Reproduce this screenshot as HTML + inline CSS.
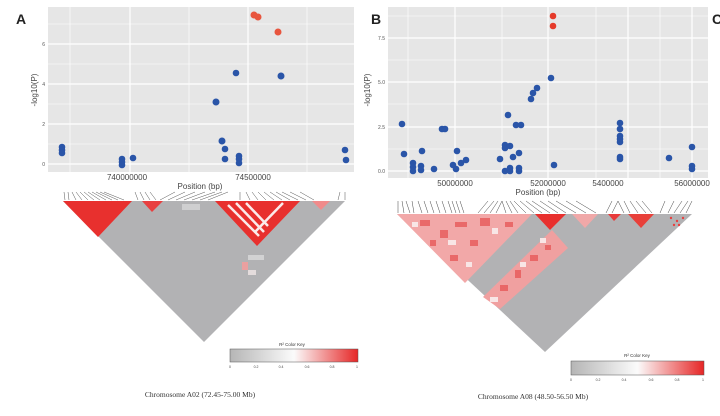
<!DOCTYPE html>
<html><head><meta charset="utf-8"><style>
body{margin:0;background:#fff;}
svg{display:block;font-family:"Liberation Sans",sans-serif;}
</style></head><body>
<svg width="720" height="416" viewBox="0 0 720 416" xmlns="http://www.w3.org/2000/svg">
<!-- Panel A -->
<text x="16" y="24" font-size="14" font-weight="bold" fill="#222">A</text>
<rect x="48" y="7" width="306" height="165" fill="#e6e6e6"/>
<g stroke="#fff" stroke-width="0.6">
<line x1="48" x2="354" y1="144" y2="144"/><line x1="48" x2="354" y1="104" y2="104"/><line x1="48" x2="354" y1="64" y2="64"/><line x1="48" x2="354" y1="24" y2="24"/>
<line x1="70" x2="70" y1="7" y2="172"/><line x1="189" x2="189" y1="7" y2="172"/><line x1="307" x2="307" y1="7" y2="172"/>
</g>
<g stroke="#fff" stroke-width="1.2">
<line x1="48" x2="354" y1="164" y2="164"/><line x1="48" x2="354" y1="124" y2="124"/><line x1="48" x2="354" y1="84" y2="84"/><line x1="48" x2="354" y1="44" y2="44"/>
<line x1="130" x2="130" y1="7" y2="172"/><line x1="248" x2="248" y1="7" y2="172"/>
</g>
<g font-size="5" fill="#555" text-anchor="end">
<text x="45" y="166">0</text><text x="45" y="126">2</text><text x="45" y="86">4</text><text x="45" y="46">6</text>
</g>
<g font-size="8" fill="#444" text-anchor="middle">
<text x="127" y="180">740000000</text><text x="253" y="180">74500000</text>
<text x="200" y="189">Position (bp)</text>
<text transform="translate(37,90) rotate(-90)">-log10(P)</text>
</g>
<g fill="#2a55a8">
<circle cx="281" cy="76" r="3.5"/><circle cx="236" cy="73" r="3.3"/><circle cx="216" cy="102" r="3.5"/>
<circle cx="222" cy="141" r="3.5"/><circle cx="225" cy="149" r="3.3"/><circle cx="225" cy="159" r="3.3"/>
<circle cx="239" cy="156" r="3.3"/><circle cx="239" cy="159" r="3.3"/><circle cx="239" cy="163" r="3.3"/>
<circle cx="62" cy="147" r="3.3"/><circle cx="62" cy="150" r="3.3"/><circle cx="62" cy="153" r="3.3"/>
<circle cx="122" cy="159" r="3.3"/><circle cx="122" cy="162" r="3.3"/><circle cx="122" cy="165" r="3.3"/>
<circle cx="133" cy="158" r="3.3"/><circle cx="345" cy="150" r="3.3"/><circle cx="346" cy="160" r="3.3"/>
</g>
<g fill="#e8553e">
<circle cx="254" cy="15" r="3.5"/><circle cx="258" cy="17" r="3.5"/><circle cx="278" cy="32" r="3.5"/>
</g>
<!-- LD A -->
<g stroke="#555" stroke-width="0.5">
<path d="M64 192 L65 200 M68 192 L69 200 M72 192 L76 200 M76 192 L82 200 M80 192 L88 200 M84 192 L94 200 M88 192 L100 200 M92 192 L106 200 M96 192 L112 200 M100 192 L118 200 M104 192 L124 200 M135 192 L138 200 M140 192 L144 200 M145 192 L150 200 M150 192 L156 200 M160 200 L175 192 M168 200 L185 192 M176 200 L195 192 M184 200 L205 192 M192 200 L215 192 M200 200 L222 192 M208 200 L228 192 M240 192 L240 200 M246 192 L250 200 M252 192 L258 200 M258 192 L266 200 M264 192 L274 200 M270 192 L282 200 M276 192 L290 200 M282 192 L298 200 M290 192 L306 200 M300 192 L314 200 M340 192 L338 200 M345 192 L345 200"/>
</g>
<polygon points="63,201 345,201 204,342" fill="#b2b2b4"/>
<polygon points="63,201 132,201 98,237" fill="#e8302e"/>
<polygon points="142,201 163,201 152,212" fill="#e84040"/>
<polygon points="215,201 300,201 257,246" fill="#e8302e"/>
<g stroke="#fbeaea" stroke-width="2.5">
<line x1="228" y1="205" x2="259" y2="236"/><line x1="236" y1="203" x2="264" y2="232"/><line x1="283" y1="203" x2="255" y2="232"/><line x1="246" y1="203" x2="268" y2="226"/>
</g>
<polygon points="312,201 330,201 321,210" fill="#f08b8b"/>
<rect x="182" y="204" width="18" height="6" fill="#cfcfd0"/>
<rect x="242" y="262" width="6" height="8" fill="#eaa0a0"/><rect x="248" y="255" width="16" height="5" fill="#d2d2d3"/><rect x="248" y="270" width="8" height="5" fill="#e4dcdc"/>
<defs>
<linearGradient id="ck" x1="0" x2="1"><stop offset="0" stop-color="#b5b5b5"/><stop offset="0.5" stop-color="#fbfbfb"/><stop offset="1" stop-color="#e62626"/></linearGradient>
</defs>
<text x="292" y="346" font-size="4.5" text-anchor="middle" fill="#333">R² Color Key</text>
<rect x="230" y="349" width="128" height="13" fill="url(#ck)" stroke="#555" stroke-width="0.5"/>
<g font-size="3.5" fill="#444" text-anchor="middle"><text x="230" y="368">0</text><text x="256" y="368">0.2</text><text x="281" y="368">0.4</text><text x="307" y="368">0.6</text><text x="332" y="368">0.8</text><text x="357" y="368">1</text></g>
<text x="200" y="397" font-size="7.5" text-anchor="middle" font-family="Liberation Serif,serif" fill="#333">Chromosome A02 (72.45-75.00 Mb)</text>

<!-- Panel B -->
<text x="371" y="24" font-size="14" font-weight="bold" fill="#222">B</text>
<text x="712" y="24" font-size="14" font-weight="bold" fill="#222">C</text>
<rect x="388" y="7" width="320" height="171" fill="#e6e6e6"/>
<g stroke="#fff" stroke-width="0.6">
<line x1="388" x2="708" y1="149" y2="149"/><line x1="388" x2="708" y1="104" y2="104"/><line x1="388" x2="708" y1="60" y2="60"/><line x1="388" x2="708" y1="16" y2="16"/>
<line x1="408" x2="408" y1="7" y2="178"/><line x1="502" x2="502" y1="7" y2="178"/><line x1="596" x2="596" y1="7" y2="178"/><line x1="660" x2="660" y1="7" y2="178"/>
</g>
<g stroke="#fff" stroke-width="1.2">
<line x1="388" x2="708" y1="171" y2="171"/><line x1="388" x2="708" y1="127" y2="127"/><line x1="388" x2="708" y1="82" y2="82"/><line x1="388" x2="708" y1="38" y2="38"/>
<line x1="455" x2="455" y1="7" y2="178"/><line x1="548" x2="548" y1="7" y2="178"/><line x1="628" x2="628" y1="7" y2="178"/><line x1="692" x2="692" y1="7" y2="178"/>
</g>
<g font-size="5" fill="#555" text-anchor="end">
<text x="385" y="173">0.0</text><text x="385" y="129">2.5</text><text x="385" y="84">5.0</text><text x="385" y="40">7.5</text>
</g>
<g font-size="8" fill="#444" text-anchor="middle">
<text x="455" y="186">50000000</text><text x="548" y="186">52000000</text><text x="608" y="186">5400000</text><text x="692" y="186">56000000</text>
<text x="538" y="195">Position (bp)</text>
<text transform="translate(370,90) rotate(-90)">-log10(P)</text>
</g>
<g fill="#2a55a8">
<circle cx="551" cy="78" r="3.3"/><circle cx="537" cy="88" r="3.3"/><circle cx="533" cy="93" r="3.3"/><circle cx="531" cy="99" r="3.3"/>
<circle cx="508" cy="115" r="3.3"/><circle cx="516" cy="125" r="3.3"/><circle cx="521" cy="125" r="3.3"/>
<circle cx="402" cy="124" r="3.3"/><circle cx="442" cy="129" r="3.3"/><circle cx="445" cy="129" r="3.3"/>
<circle cx="404" cy="154" r="3.3"/><circle cx="422" cy="151" r="3.3"/>
<circle cx="413" cy="163" r="3.3"/><circle cx="413" cy="167" r="3.3"/><circle cx="413" cy="171" r="3.3"/>
<circle cx="421" cy="166" r="3.3"/><circle cx="421" cy="170" r="3.3"/><circle cx="434" cy="169" r="3.3"/>
<circle cx="457" cy="151" r="3.3"/><circle cx="453" cy="165" r="3.3"/><circle cx="456" cy="169" r="3.3"/>
<circle cx="461" cy="163" r="3.3"/><circle cx="466" cy="160" r="3.3"/>
<circle cx="500" cy="159" r="3.3"/><circle cx="505" cy="145" r="3.3"/><circle cx="505" cy="148" r="3.3"/><circle cx="510" cy="146" r="3.3"/>
<circle cx="513" cy="157" r="3.3"/><circle cx="519" cy="153" r="3.3"/>
<circle cx="505" cy="171" r="3.3"/><circle cx="510" cy="171" r="3.3"/><circle cx="510" cy="168" r="3.3"/><circle cx="519" cy="171" r="3.3"/><circle cx="519" cy="168" r="3.3"/>
<circle cx="554" cy="165" r="3.3"/>
<circle cx="620" cy="123" r="3.3"/><circle cx="620" cy="129" r="3.3"/><circle cx="620" cy="136" r="3.3"/><circle cx="620" cy="139" r="3.3"/><circle cx="620" cy="142" r="3.3"/><circle cx="620" cy="157" r="3.3"/><circle cx="620" cy="159" r="3.3"/>
<circle cx="669" cy="158" r="3.3"/><circle cx="692" cy="147" r="3.3"/><circle cx="692" cy="166" r="3.3"/><circle cx="692" cy="169" r="3.3"/>
</g>
<g fill="#e53a2a"><circle cx="553" cy="16" r="3.3"/><circle cx="553" cy="26" r="3.3"/></g>
<!-- LD B -->
<g stroke="#444" stroke-width="0.5">
<path d="M398 201 L398 213 M402 201 L404 213 M406 201 L410 213 M412 201 L414 213 M418 201 L422 213 M424 201 L428 213 M430 201 L434 213 M436 201 L440 213 M442 201 L446 213 M448 201 L452 213 M452 201 L456 213 M456 201 L460 213 M460 201 L464 213 M478 213 L488 201 M484 213 L494 201 M490 213 L498 201 M496 213 L502 201 M502 201 L506 213 M506 201 L512 213 M510 201 L518 213 M514 201 L526 213 M520 201 L534 213 M526 201 L542 213 M532 201 L550 213 M540 201 L558 213 M548 201 L566 213 M556 201 L576 213 M566 201 L586 213 M576 201 L596 213 M606 213 L612 201 M612 213 L618 201 M618 201 L624 213 M624 201 L630 213 M630 201 L638 213 M636 201 L646 213 M642 201 L652 213 M660 213 L665 201 M668 213 L674 201 M674 213 L682 201 M680 213 L688 201 M686 213 L692 201"/>
</g>
<polygon points="397,214 692,214 545,352" fill="#b2b2b4"/>
<polygon points="397,214 532,214 465,283" fill="#f2a8a8"/>
<polygon points="483,297 552,230 568,248 500,309" fill="#f0a0a0"/>
<g fill="#e85a5a" opacity="0.8">
<rect x="420" y="220" width="10" height="6"/><rect x="440" y="230" width="8" height="8"/><rect x="455" y="222" width="12" height="5"/><rect x="480" y="218" width="10" height="8"/><rect x="470" y="240" width="8" height="6"/><rect x="505" y="222" width="8" height="5"/><rect x="450" y="255" width="8" height="6"/><rect x="430" y="240" width="6" height="6"/>
<rect x="530" y="255" width="8" height="6"/><rect x="515" y="270" width="6" height="8"/><rect x="500" y="285" width="8" height="6"/><rect x="545" y="245" width="6" height="5"/>
</g>
<g fill="#f8e6e6">
<rect x="412" y="222" width="6" height="5"/><rect x="448" y="240" width="8" height="5"/><rect x="492" y="228" width="6" height="6"/><rect x="466" y="262" width="6" height="5"/><rect x="520" y="262" width="6" height="5"/><rect x="490" y="297" width="8" height="5"/><rect x="540" y="238" width="6" height="5"/>
</g>
<polygon points="535,214 566,214 550,230" fill="#e8302e"/>
<polygon points="572,214 598,214 585,228" fill="#f0a8a8"/>
<polygon points="608,214 621,214 614,221" fill="#e83a3a"/>
<polygon points="628,214 654,214 641,228" fill="#e8403a"/>
<g fill="#e84040"><circle cx="671" cy="218" r="1.2"/><circle cx="677" cy="221" r="1.2"/><circle cx="683" cy="218" r="1.2"/><circle cx="679" cy="225" r="1.2"/><circle cx="674" cy="225" r="1.2"/></g>
<text x="637" y="357" font-size="4.5" text-anchor="middle" fill="#333">R² Color Key</text>
<rect x="571" y="361" width="133" height="14" fill="url(#ck)" stroke="#555" stroke-width="0.5"/>
<g font-size="3.5" fill="#444" text-anchor="middle"><text x="571" y="381">0</text><text x="598" y="381">0.2</text><text x="624" y="381">0.4</text><text x="651" y="381">0.6</text><text x="677" y="381">0.8</text><text x="703" y="381">1</text></g>
<text x="533" y="399" font-size="7.5" text-anchor="middle" font-family="Liberation Serif,serif" fill="#333">Chromosome A08 (48.50-56.50 Mb)</text>
</svg>
</body></html>
